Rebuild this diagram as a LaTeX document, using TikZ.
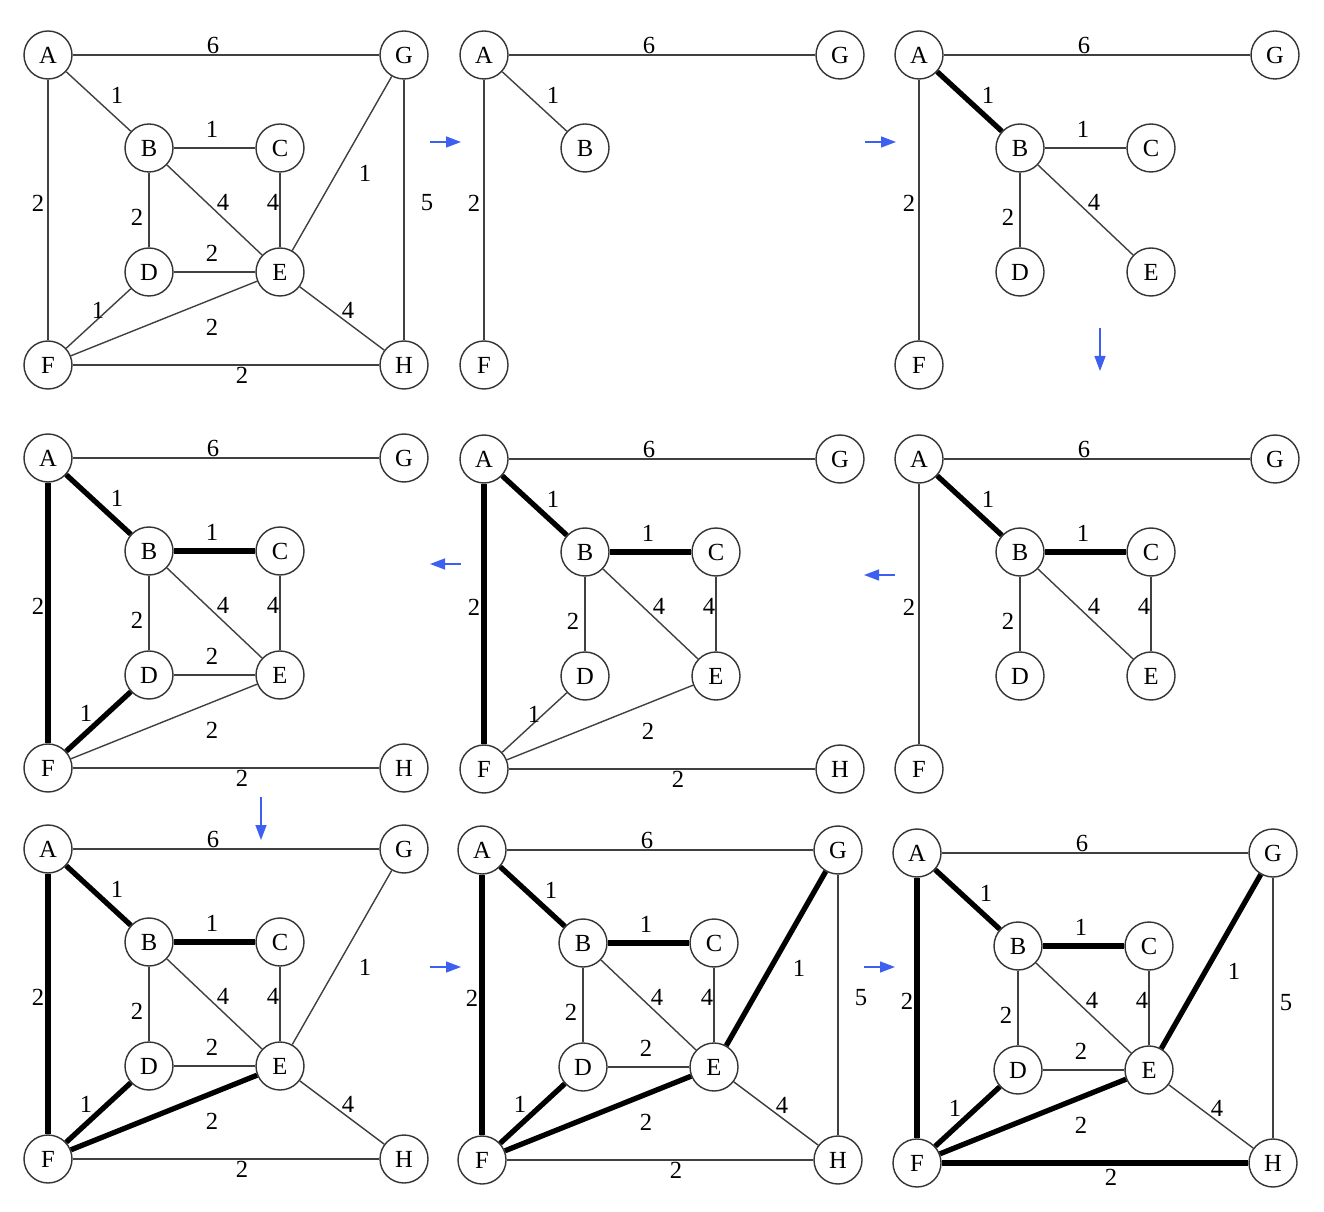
\documentclass[tikz,border=0pt]{standalone}
\usepackage{fontspec}
\setmainfont{Liberation Serif}
\usepackage{tikz}
\usetikzlibrary{arrows.meta}
\definecolor{stepblue}{RGB}{62,96,240}

\begin{document}
\begin{tikzpicture}[x=0.1mm,y=-0.1mm,
    vtx/.style={circle,draw=black!80,line width=0.4pt,minimum size=4.8mm,inner sep=0pt,font=\fontsize{7}{8}\selectfont},
    link/.style={draw=black!75,line width=0.4pt},
    picked/.style={draw=black,line width=1.5pt},
    wt/.style={inner sep=0pt,font=\fontsize{7}{8}\selectfont},
    nextstep/.style={draw=stepblue,line width=0.4pt,-{Triangle[length=1.5mm,width=1.1mm]}}]
	\useasboundingbox (0,0) rectangle (1324,1212);

	\begin{scope}[shift={(48,55)}]
		\foreach \v/\x/\y in {A/0/0,G/356/0,B/101/93,C/232/93,D/101/217,E/232/217,F/0/310,H/356/310}
			\node[vtx] (\v) at (\x,\y) {\v};
		\draw[link] (A) -- (G) node[wt] at (165,-10) {6};
		\draw[link] (A) -- (B) node[wt] at (69,40) {1};
		\draw[link] (B) -- (C) node[wt] at (164,74) {1};
		\draw[link] (A) -- (F) node[wt] at (-10,148) {2};
		\draw[link] (B) -- (D) node[wt] at (89,162) {2};
		\draw[link] (B) -- (E) node[wt] at (175,147) {4};
		\draw[link] (C) -- (E) node[wt] at (225,147) {4};
		\draw[link] (G) -- (E) node[wt] at (317,118) {1};
		\draw[link] (G) -- (H) node[wt] at (379,148) {5};
		\draw[link] (D) -- (E) node[wt] at (164,198) {2};
		\draw[link] (D) -- (F) node[wt] at (50,255) {1};
		\draw[link] (F) -- (E) node[wt] at (164,272) {2};
		\draw[link] (E) -- (H) node[wt] at (300,255) {4};
		\draw[link] (F) -- (H) node[wt] at (194,320) {2};
	\end{scope}

	\begin{scope}[shift={(484,55)}]
		\foreach \v/\x/\y in {A/0/0,G/356/0,B/101/93,F/0/310}
			\node[vtx] (\v) at (\x,\y) {\v};
		\draw[link] (A) -- (G) node[wt] at (165,-10) {6};
		\draw[link] (A) -- (B) node[wt] at (69,40) {1};
		\draw[link] (A) -- (F) node[wt] at (-10,148) {2};
	\end{scope}

	\begin{scope}[shift={(919,55)}]
		\foreach \v/\x/\y in {A/0/0,G/356/0,B/101/93,C/232/93,D/101/217,E/232/217,F/0/310}
			\node[vtx] (\v) at (\x,\y) {\v};
		\draw[link] (A) -- (G) node[wt] at (165,-10) {6};
		\draw[picked] (A) -- (B) node[wt] at (69,40) {1};
		\draw[link] (B) -- (C) node[wt] at (164,74) {1};
		\draw[link] (A) -- (F) node[wt] at (-10,148) {2};
		\draw[link] (B) -- (D) node[wt] at (89,162) {2};
		\draw[link] (B) -- (E) node[wt] at (175,147) {4};
	\end{scope}

	\begin{scope}[shift={(919,459)}]
		\foreach \v/\x/\y in {A/0/0,G/356/0,B/101/93,C/232/93,D/101/217,E/232/217,F/0/310}
			\node[vtx] (\v) at (\x,\y) {\v};
		\draw[link] (A) -- (G) node[wt] at (165,-10) {6};
		\draw[picked] (A) -- (B) node[wt] at (69,40) {1};
		\draw[picked] (B) -- (C) node[wt] at (164,74) {1};
		\draw[link] (A) -- (F) node[wt] at (-10,148) {2};
		\draw[link] (B) -- (D) node[wt] at (89,162) {2};
		\draw[link] (B) -- (E) node[wt] at (175,147) {4};
		\draw[link] (C) -- (E) node[wt] at (225,147) {4};
	\end{scope}

	\begin{scope}[shift={(484,459)}]
		\foreach \v/\x/\y in {A/0/0,G/356/0,B/101/93,C/232/93,D/101/217,E/232/217,F/0/310,H/356/310}
			\node[vtx] (\v) at (\x,\y) {\v};
		\draw[link] (A) -- (G) node[wt] at (165,-10) {6};
		\draw[picked] (A) -- (B) node[wt] at (69,40) {1};
		\draw[picked] (B) -- (C) node[wt] at (164,74) {1};
		\draw[picked] (A) -- (F) node[wt] at (-10,148) {2};
		\draw[link] (B) -- (D) node[wt] at (89,162) {2};
		\draw[link] (B) -- (E) node[wt] at (175,147) {4};
		\draw[link] (C) -- (E) node[wt] at (225,147) {4};
		\draw[link] (D) -- (F) node[wt] at (50,255) {1};
		\draw[link] (F) -- (E) node[wt] at (164,272) {2};
		\draw[link] (F) -- (H) node[wt] at (194,320) {2};
	\end{scope}

	\begin{scope}[shift={(48,458)}]
		\foreach \v/\x/\y in {A/0/0,G/356/0,B/101/93,C/232/93,D/101/217,E/232/217,F/0/310,H/356/310}
			\node[vtx] (\v) at (\x,\y) {\v};
		\draw[link] (A) -- (G) node[wt] at (165,-10) {6};
		\draw[picked] (A) -- (B) node[wt] at (69,40) {1};
		\draw[picked] (B) -- (C) node[wt] at (164,74) {1};
		\draw[picked] (A) -- (F) node[wt] at (-10,148) {2};
		\draw[link] (B) -- (D) node[wt] at (89,162) {2};
		\draw[link] (B) -- (E) node[wt] at (175,147) {4};
		\draw[link] (C) -- (E) node[wt] at (225,147) {4};
		\draw[link] (D) -- (E) node[wt] at (164,198) {2};
		\draw[picked] (D) -- (F) node[wt] at (38,255) {1};
		\draw[link] (F) -- (E) node[wt] at (164,272) {2};
		\draw[link] (F) -- (H) node[wt] at (194,320) {2};
	\end{scope}

	\begin{scope}[shift={(48,849)}]
		\foreach \v/\x/\y in {A/0/0,G/356/0,B/101/93,C/232/93,D/101/217,E/232/217,F/0/310,H/356/310}
			\node[vtx] (\v) at (\x,\y) {\v};
		\draw[link] (A) -- (G) node[wt] at (165,-10) {6};
		\draw[picked] (A) -- (B) node[wt] at (69,40) {1};
		\draw[picked] (B) -- (C) node[wt] at (164,74) {1};
		\draw[picked] (A) -- (F) node[wt] at (-10,148) {2};
		\draw[link] (B) -- (D) node[wt] at (89,162) {2};
		\draw[link] (B) -- (E) node[wt] at (175,147) {4};
		\draw[link] (C) -- (E) node[wt] at (225,147) {4};
		\draw[link] (G) -- (E) node[wt] at (317,118) {1};
		\draw[link] (D) -- (E) node[wt] at (164,198) {2};
		\draw[picked] (D) -- (F) node[wt] at (38,255) {1};
		\draw[picked] (F) -- (E) node[wt] at (164,272) {2};
		\draw[link] (E) -- (H) node[wt] at (300,255) {4};
		\draw[link] (F) -- (H) node[wt] at (194,320) {2};
	\end{scope}

	\begin{scope}[shift={(482,850)}]
		\foreach \v/\x/\y in {A/0/0,G/356/0,B/101/93,C/232/93,D/101/217,E/232/217,F/0/310,H/356/310}
			\node[vtx] (\v) at (\x,\y) {\v};
		\draw[link] (A) -- (G) node[wt] at (165,-10) {6};
		\draw[picked] (A) -- (B) node[wt] at (69,40) {1};
		\draw[picked] (B) -- (C) node[wt] at (164,74) {1};
		\draw[picked] (A) -- (F) node[wt] at (-10,148) {2};
		\draw[link] (B) -- (D) node[wt] at (89,162) {2};
		\draw[link] (B) -- (E) node[wt] at (175,147) {4};
		\draw[link] (C) -- (E) node[wt] at (225,147) {4};
		\draw[picked] (G) -- (E) node[wt] at (317,118) {1};
		\draw[link] (G) -- (H) node[wt] at (379,148) {5};
		\draw[link] (D) -- (E) node[wt] at (164,198) {2};
		\draw[picked] (D) -- (F) node[wt] at (38,254) {1};
		\draw[picked] (F) -- (E) node[wt] at (164,272) {2};
		\draw[link] (E) -- (H) node[wt] at (300,255) {4};
		\draw[link] (F) -- (H) node[wt] at (194,320) {2};
	\end{scope}

	\begin{scope}[shift={(917,853)}]
		\foreach \v/\x/\y in {A/0/0,G/356/0,B/101/93,C/232/93,D/101/217,E/232/217,F/0/310,H/356/310}
			\node[vtx] (\v) at (\x,\y) {\v};
		\draw[link] (A) -- (G) node[wt] at (165,-10) {6};
		\draw[picked] (A) -- (B) node[wt] at (69,40) {1};
		\draw[picked] (B) -- (C) node[wt] at (164,74) {1};
		\draw[picked] (A) -- (F) node[wt] at (-10,148) {2};
		\draw[link] (B) -- (D) node[wt] at (89,162) {2};
		\draw[link] (B) -- (E) node[wt] at (175,147) {4};
		\draw[link] (C) -- (E) node[wt] at (225,147) {4};
		\draw[picked] (G) -- (E) node[wt] at (317,118) {1};
		\draw[link] (G) -- (H) node[wt] at (369,150) {5};
		\draw[link] (D) -- (E) node[wt] at (164,198) {2};
		\draw[picked] (D) -- (F) node[wt] at (38,255) {1};
		\draw[picked] (F) -- (E) node[wt] at (164,272) {2};
		\draw[link] (E) -- (H) node[wt] at (300,255) {4};
		\draw[picked] (F) -- (H) node[wt] at (194,324) {2};
	\end{scope}

	\draw[nextstep] (430,142) -- (461,142);
	\draw[nextstep] (865,142) -- (896,142);
	\draw[nextstep] (1100,328) -- (1100,371);
	\draw[nextstep] (895,575) -- (864,575);
	\draw[nextstep] (461,564) -- (430,564);
	\draw[nextstep] (261,797) -- (261,840);
	\draw[nextstep] (430,967) -- (461,967);
	\draw[nextstep] (864,967) -- (895,967);
\end{tikzpicture}
\end{document}
